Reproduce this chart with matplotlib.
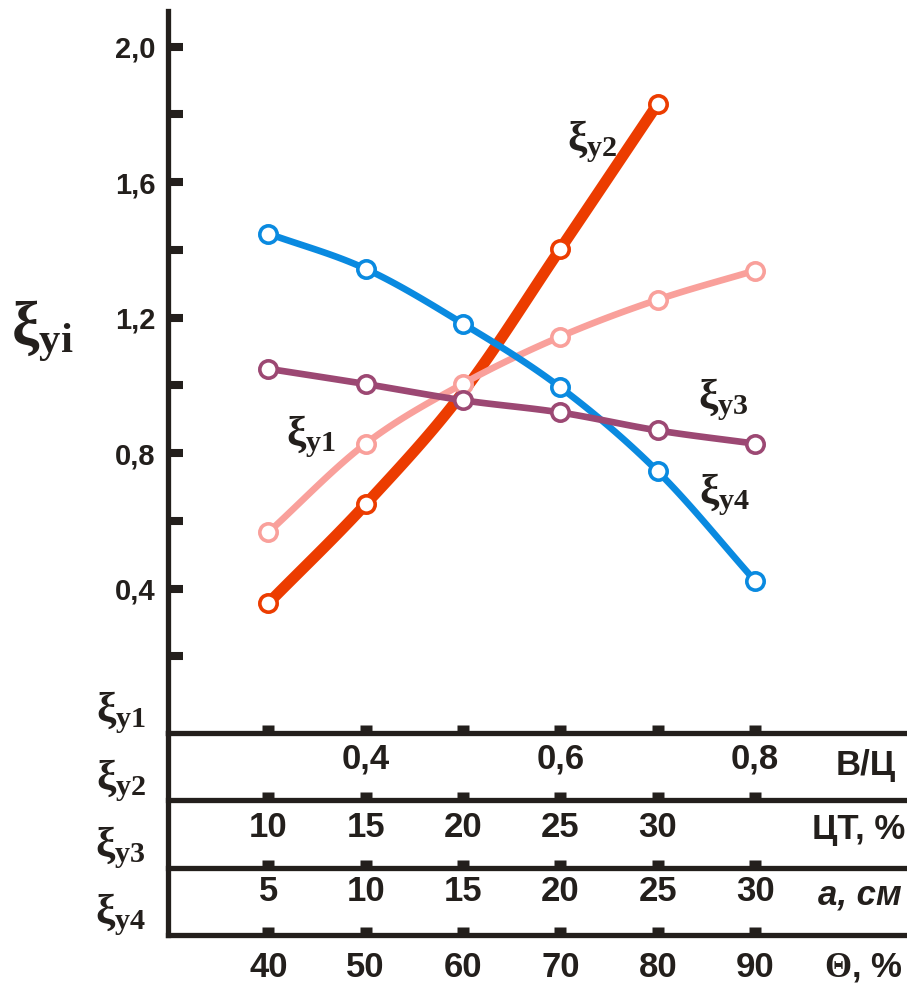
import numpy as np
import matplotlib
matplotlib.use("Agg")
import matplotlib.pyplot as plt

plt.rcParams['font.family'] = ['Liberation Sans', 'DejaVu Sans']
plt.rcParams['mathtext.fontset'] = 'custom'
plt.rcParams['mathtext.rm'] = 'Liberation Serif'
plt.rcParams['mathtext.it'] = 'Liberation Serif:italic'
plt.rcParams['mathtext.bf'] = 'Liberation Serif:bold'

# values
theta = [40, 50, 60, 70, 80, 90]
xi_y1 = [0.566, 0.828, 1.005, 1.144, 1.253, 1.339]
xi_y2 = [0.357, 0.649, 0.98, 1.403, 1.831]       # no marker at 60
xi_y3 = [1.049, 1.004, 0.956, 0.920, 0.867, 0.828]
xi_y4 = [1.448, 1.344, 1.182, 0.994, 0.746, 0.423]

# lower scales
bc_pos = [50, 70, 90]
bc_labels = ['0,4', '0,6', '0,8']
ct_pos = [40, 50, 60, 70, 80]
ct_labels = ['10', '15', '20', '25', '30']
a_labels = ['5', '10', '15', '20', '25', '30']
theta_labels = ['40', '50', '60', '70', '80', '90']

y_major = [0.4, 0.8, 1.2, 1.6, 2.0]
y_major_labels = ['0,4', '0,8', '1,2', '1,6', '2,0']
y_minor = [0.2, 0.6, 1.0, 1.4, 1.8]

c_blue = '#0a8ae0'
c_orange = '#ec3c00'
c_pink = '#f9a09b'
c_purple = '#9c4873'
dark = '#231f1c'


def smooth(x, y, n=24):
    # catmull-rom path through the points, just for drawing
    x = np.asarray(x, float)
    y = np.asarray(y, float)
    px = np.r_[2 * x[0] - x[1], x, 2 * x[-1] - x[-2]]
    py = np.r_[2 * y[0] - y[1], y, 2 * y[-1] - y[-2]]
    t = np.linspace(0, 1, n)
    xs, ys = [], []
    for i in range(1, len(px) - 2):
        for p, out in ((px, xs), (py, ys)):
            p0, p1, p2, p3 = p[i - 1], p[i], p[i + 1], p[i + 2]
            out.extend(0.5 * (2 * p1 + (-p0 + p2) * t
                              + (2 * p0 - 5 * p1 + 4 * p2 - p3) * t ** 2
                              + (-p0 + 3 * p1 - 3 * p2 + p3) * t ** 3))
    return xs, ys


W, H = 907, 983
fig = plt.figure(figsize=(W / 100, H / 100), dpi=100)

left, right = 168, 907
top, base, bottom = 11, 733, 935
ax = fig.add_axes([left / W, (H - base) / H, (right - left) / W, (base - top) / H])
ax2 = fig.add_axes([left / W, (H - bottom) / H, (right - left) / W, (bottom - base) / H])

xlim = (29.7, 105.6)
ax.set_xlim(*xlim)
ax.set_ylim(-0.026, 2.105)
ax2.set_xlim(*xlim)
ax2.set_ylim(0, 3)

for a in (ax, ax2):
    for s in ('top', 'right', 'bottom'):
        a.spines[s].set_visible(False)
    a.spines['left'].set_linewidth(3.8)
    a.spines['left'].set_color(dark)
    a.patch.set_alpha(0)
    a.set_xticks([])

ax.set_yticks(y_major)
ax.set_yticklabels(y_major_labels)
ax.set_yticks(y_minor, minor=True)
ax.tick_params(axis='y', which='both', direction='in', length=11, width=5.8,
               color=dark, pad=9, labelsize=21, labelcolor=dark)
for lab in ax.get_yticklabels():
    lab.set_fontweight('bold')
ax2.set_yticks([])

# curves
lw_thin = 4.8
ms = 12.5
mew = 2.6
xs, ys = smooth(theta[:5], xi_y2)
ax.plot(xs, ys, color=c_orange, lw=8, solid_capstyle='round', zorder=2)
ax.plot([theta[i] for i in (0, 1, 3, 4)], [xi_y2[i] for i in (0, 1, 3, 4)],
        ls='none', marker='o', ms=ms, mfc='white', mec=c_orange, mew=mew, zorder=2)

for vals, col, z in ((xi_y1, c_pink, 3), (xi_y4, c_blue, 4), (xi_y3, c_purple, 5)):
    xs, ys = smooth(theta, vals)
    ax.plot(xs, ys, color=col, lw=lw_thin, solid_capstyle='round', zorder=z)
    ax.plot(theta, vals, ls='none', marker='o', ms=ms, mfc='white', mec=col,
            mew=mew, zorder=z)

# curve labels
lab_kw = dict(fontsize=31, color=dark, ha='center', va='center')
ax.text(73.3, 1.72, r'$\mathbf{\xi_{y2}}$', **lab_kw)
ax.text(44.4, 0.847, r'$\mathbf{\xi_{y1}}$', **lab_kw)
ax.text(86.7, 0.956, r'$\mathbf{\xi_{y3}}$', **lab_kw)
ax.text(86.9, 0.676, r'$\mathbf{\xi_{y4}}$', **lab_kw)
fig.text(42 / W, (H - 331) / H, r'$\mathbf{\xi_{yi}}$', fontsize=44,
         color=dark, ha='center', va='center')

# lower scale lines with square ticks
sq = [(-0.75, 0), (0.75, 0), (0.75, 1), (-0.75, 1), (-0.75, 0)]
for row in (3, 2, 1, 0):
    ax2.axhline(row, color=dark, lw=3.8, zorder=1, clip_on=False)
    ax2.plot(theta, [row] * len(theta), ls='none', marker=sq, ms=11.5,
             mfc=dark, mec='none', clip_on=False, zorder=2)

num_kw = dict(fontsize=25, fontweight='bold', color=dark, ha='center', va='center')
for p, t in zip(bc_pos, bc_labels):
    ax2.text(p, 2.61, t, **num_kw)
for p, t in zip(ct_pos, ct_labels):
    ax2.text(p, 1.60, t, **num_kw)
for p, t in zip(theta, a_labels):
    ax2.text(p, 0.64, t, **num_kw)
for p, t in zip(theta, theta_labels):
    ax2.text(p, -0.49, t, **num_kw)

name_kw = dict(num_kw, ha='right')
ax2.text(104.4, 2.52, 'В/Ц', **name_kw)
ax2.text(105.4, 1.56, 'ЦТ, %', **name_kw)
ax2.text(105.1, 0.59, 'а, см', style='italic', **name_kw)
ax2.text(105.1, -0.49, r'$\mathbf{\Theta}$, %', **name_kw)

# axis-side labels for each scale
for row, t in ((3, r'$\mathbf{\xi_{y1}}$'), (2, r'$\mathbf{\xi_{y2}}$'),
               (1, r'$\mathbf{\xi_{y3}}$'), (0, r'$\mathbf{\xi_{y4}}$')):
    ax2.text(-0.03, row - 0.05, t, transform=ax2.get_yaxis_transform(),
             fontsize=31, color=dark, ha='right', va='bottom', clip_on=False)

fig.savefig('out.png', dpi=100)
